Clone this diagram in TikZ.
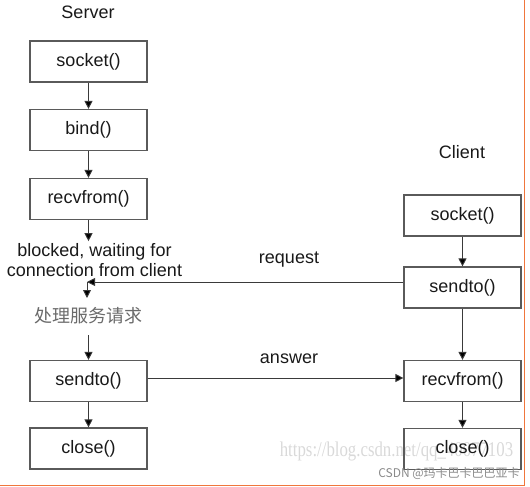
\documentclass[tikz,border=0pt]{standalone}
\usepackage{fontspec}
\setmainfont{Liberation Sans}
\newfontfamily\cjk{Noto Sans CJK SC}
\newfontfamily\wmserif{Liberation Serif}
\usetikzlibrary{arrows.meta}
\definecolor{boxline}{HTML}{5A5A5A}
\definecolor{arrline}{HTML}{3A3A3A}
\definecolor{frameorange}{HTML}{F0763C}
\definecolor{wmgray}{HTML}{D9D9D9}
\definecolor{csdngray}{HTML}{8A8A8A}
\definecolor{procgray}{HTML}{6A6A6A}
\tikzset{
  fnbox/.style={draw=boxline, line width=1.2pt, minimum width=117pt, minimum height=41pt,
    inner sep=0pt, font=\fontsize{18}{20}\selectfont, text=black!90},
  lbl/.style={font=\fontsize{18}{20}\selectfont, text=black!90, inner sep=0pt},
  arr/.style={draw=arrline, line width=0.9pt, -{Triangle[length=8pt,width=8pt,fill=black]}},
}
\begin{document}
\begin{tikzpicture}[x=1pt,y=-1pt]
\useasboundingbox (0,0) rectangle (530,487);
% watermark
\node[font=\wmserif\fontsize{21}{22}\selectfont, text=wmgray, inner sep=0pt, xscale=0.8] (wm) at (396.5,451) {https://blog.csdn.net/qq\_40077103};
% server side
\node[lbl] (server) at (88,12) {Server};
\node[fnbox] (ssock) at (88.5,61.5) {socket()};
\node[fnbox] (sbind) at (88.5,130) {bind()};
\node[fnbox] (srecv) at (88.5,199) {recvfrom()};
\node[lbl, align=center] (blocked) at (94.5,260) {blocked, waiting for\\connection from client};
\coordinate (junc) at (87,282);
\coordinate (jend) at (87,298);
\node[font=\cjk\fontsize{18}{20}\selectfont, text=procgray, inner sep=0pt] (proc) at (88,316) {处理服务请求};
\coordinate (pbot) at (88.5,335);
\node[fnbox] (ssend) at (88.5,381) {sendto()};
\node[fnbox] (sclose) at (88.5,448.5) {close()};
% client side
\node[lbl] (client) at (462,152) {Client};
\node[fnbox] (csock) at (462.5,215.5) {socket()};
\node[fnbox] (csend) at (462.5,287.5) {sendto()};
\node[fnbox] (crecv) at (462.5,381) {recvfrom()};
\node[fnbox] (cclose) at (462.5,449) {close()};
% labels on messages
\node[lbl] (req) at (289,260) {request};
\node[lbl] (ans) at (289,359) {answer};
% server arrows
\draw[arr] (ssock) -- (sbind);
\draw[arr] (sbind) -- (srecv);
\draw[arr] (srecv.south) -- ([yshift=2pt]srecv.south |- blocked.north);
\draw[arr] (junc) -- (jend);
\draw[arr] (pbot) -- (ssend.north);
\draw[arr] (ssend) -- (sclose);
% client arrows
\draw[arr] (csock) -- (csend);
\draw[arr] (csend) -- (crecv);
\draw[arr] (crecv) -- (cclose);
% messages
\draw[arr] (junc -| csend.west) -- (junc);
\draw[arr] ([yshift=3pt]ssend.east) -- ([yshift=3pt]crecv.west);
% csdn watermark
\node[font=\cjk\fontsize{12}{13}\selectfont, text=csdngray, inner sep=0pt] (csdn) at (449,473) {CSDN @玛卡巴卡巴巴亚卡};
% orange frame
\draw[frameorange, line width=1.6pt] (0,485.5) -- (524.5,485.5) -- (524.5,0);
\end{tikzpicture}
\end{document}
